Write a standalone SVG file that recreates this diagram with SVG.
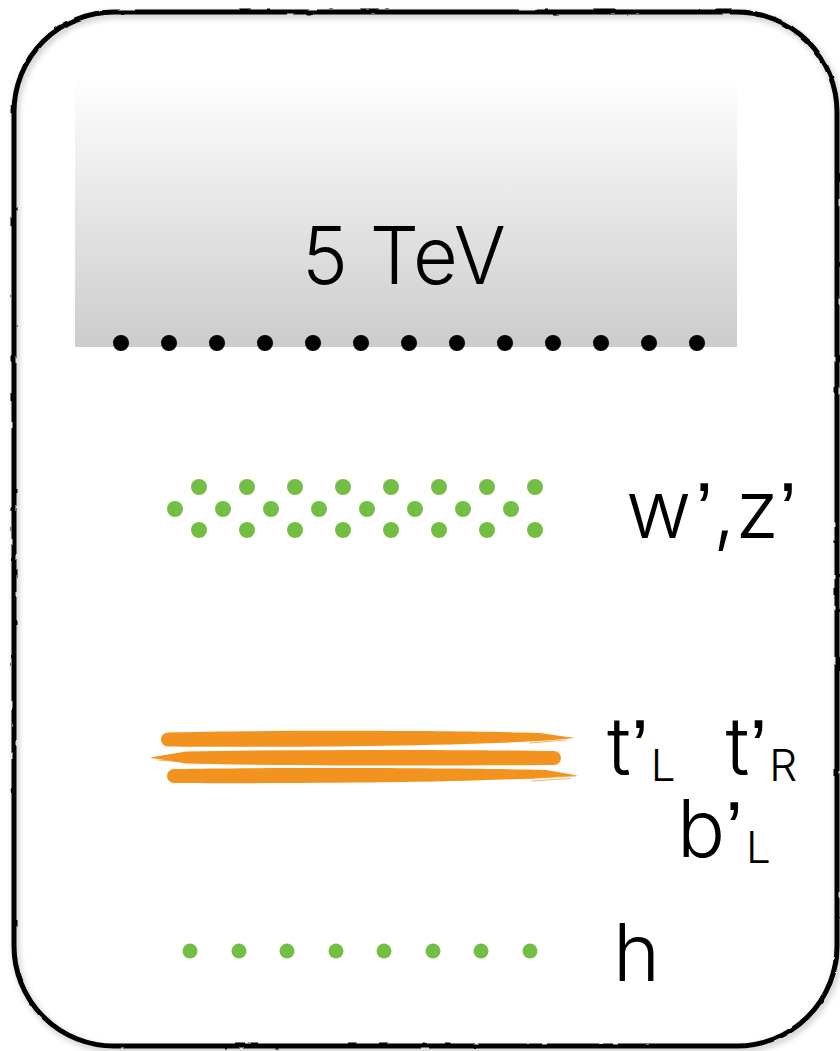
<svg xmlns="http://www.w3.org/2000/svg" width="840" height="1051" viewBox="0 0 840 1051">
  <defs>
    <linearGradient id="bandFill" x1="0" y1="0" x2="0" y2="1">
      <stop offset="0" stop-color="#ffffff"/>
      <stop offset="0.15" stop-color="#f7f7f7"/>
      <stop offset="1" stop-color="#cccccc"/>
    </linearGradient>
    <filter id="rough" x="-5%" y="-5%" width="110%" height="110%">
      <feTurbulence type="fractalNoise" baseFrequency="0.06" numOctaves="2" seed="3" result="n"/>
      <feDisplacementMap in="SourceGraphic" in2="n" scale="2.5" xChannelSelector="R" yChannelSelector="G" result="d"/>
      <feGaussianBlur in="SourceAlpha" stdDeviation="3" result="b"/>
      <feOffset in="b" dx="2" dy="3" result="o"/>
      <feComponentTransfer in="o" result="s"><feFuncA type="linear" slope="0.25"/></feComponentTransfer>
      <feMerge><feMergeNode in="s"/><feMergeNode in="d"/></feMerge>
    </filter>
  </defs>
  <style>
    .lbl { font-family: Inter, Roboto, "Liberation Sans", Arial, sans-serif; font-weight: 300; fill: #000; }
    .big { font-size: 80px; }
    .sub { font-size: 44px; }
    .apo { font-family: "Liberation Sans", Arial, sans-serif; font-weight: 400; }
    .bdot { fill: #000; }
    .gdot { fill: #72bf44; }
    .stroke { fill: #f3931f; }
    .feather { fill: none; stroke: #f3931f; stroke-width: 1.2; stroke-linecap: round; opacity: 0.7; }
  </style>

  <rect width="840" height="1051" fill="#ffffff"/>

  <!-- energy band -->
  <g id="band-5tev">
    <rect x="75" y="76" width="662" height="271" fill="url(#bandFill)"/>
    <text class="lbl big" x="302" y="284" textLength="204" lengthAdjust="spacingAndGlyphs">5 TeV</text>
    <g id="cutoff-dots" class="bdot">
      <circle cx="121" cy="343" r="8"/>
      <circle cx="169" cy="343" r="8"/>
      <circle cx="217" cy="343" r="8"/>
      <circle cx="265" cy="343" r="8"/>
      <circle cx="313" cy="343" r="8"/>
      <circle cx="361" cy="343" r="8"/>
      <circle cx="409" cy="343" r="8"/>
      <circle cx="457" cy="343" r="8"/>
      <circle cx="505" cy="343" r="8"/>
      <circle cx="553" cy="343" r="8"/>
      <circle cx="601" cy="343" r="8"/>
      <circle cx="649" cy="343" r="8"/>
      <circle cx="697" cy="343" r="8"/>
    </g>
  </g>

  <!-- heavy vector bosons -->
  <g id="level-wz">
    <g class="gdot">
      <circle cx="199" cy="487" r="8"/><circle cx="247" cy="487" r="8"/>
      <circle cx="295" cy="487" r="8"/><circle cx="343" cy="487" r="8"/>
      <circle cx="391" cy="487" r="8"/><circle cx="439" cy="487" r="8"/>
      <circle cx="487" cy="487" r="8"/><circle cx="535" cy="487" r="8"/>
      <circle cx="175" cy="509" r="8"/><circle cx="223" cy="509" r="8"/>
      <circle cx="271" cy="509" r="8"/><circle cx="319" cy="509" r="8"/>
      <circle cx="367" cy="509" r="8"/><circle cx="415" cy="509" r="8"/>
      <circle cx="463" cy="509" r="8"/><circle cx="511" cy="509" r="8"/>
      <circle cx="199" cy="530" r="8"/><circle cx="247" cy="530" r="8"/>
      <circle cx="295" cy="530" r="8"/><circle cx="343" cy="530" r="8"/>
      <circle cx="391" cy="530" r="8"/><circle cx="439" cy="530" r="8"/>
      <circle cx="487" cy="530" r="8"/><circle cx="535" cy="530" r="8"/>
    </g>
    <text class="lbl big" x="626" y="538">w<tspan class="apo" dx="4">’</tspan>,z<tspan class="apo">’</tspan></text>
  </g>

  <!-- top partners: brush strokes -->
  <g id="level-top">
    <g class="stroke">
      <path d="M168 732.5 C260 730 450 730.5 540 733 L574 738 L548 740.5 C450 746.5 260 747.5 168 746.5 A7 7 0 0 1 168 732.5 Z"/>
      <path d="M150 757.5 L186 751.5 C300 749.5 450 749.5 554 751 A7 7 0 0 1 554 765 C450 766 300 766 186 763.5 Z"/>
      <path d="M174 769 C260 767.5 450 767.5 546 770 L578 775.5 L548 777.5 C450 783.5 260 783.5 174 783 A7 7 0 0 1 174 769 Z"/>
    </g>
    <g class="feather">
      <path d="M520 741 L572 737.5"/><path d="M530 743 L566 740"/>
      <path d="M152 758 L200 761"/><path d="M158 760 L205 763.5"/>
      <path d="M520 779 L576 776"/><path d="M532 781 L570 778.5"/>
    </g>
    <text class="lbl big" x="607" y="775">t<tspan class="apo">’</tspan><tspan class="sub" dx="2" dy="6">L</tspan><tspan dx="50" dy="-6">t</tspan><tspan class="apo">’</tspan><tspan class="sub" dx="2" dy="6">R</tspan></text>
    <text class="lbl big" x="677" y="857">b<tspan class="apo">’</tspan><tspan class="sub" dx="3" dy="6">L</tspan></text>
  </g>

  <!-- higgs -->
  <g id="level-h">
    <g class="gdot">
      <circle cx="190" cy="951" r="7.5"/><circle cx="239" cy="951" r="7.5"/>
      <circle cx="287" cy="951" r="7.5"/><circle cx="336" cy="951" r="7.5"/>
      <circle cx="384" cy="951" r="7.5"/><circle cx="433" cy="951" r="7.5"/>
      <circle cx="481" cy="951" r="7.5"/><circle cx="530" cy="951" r="7.5"/>
    </g>
    <text class="lbl big" x="613" y="981">h</text>
  </g>

  <!-- hand-drawn frame -->
  <g id="frame">
    <rect x="14" y="12" width="823" height="1034" rx="100" ry="100" fill="none" stroke="#000" stroke-width="5" filter="url(#rough)"/>
  </g>
</svg>
